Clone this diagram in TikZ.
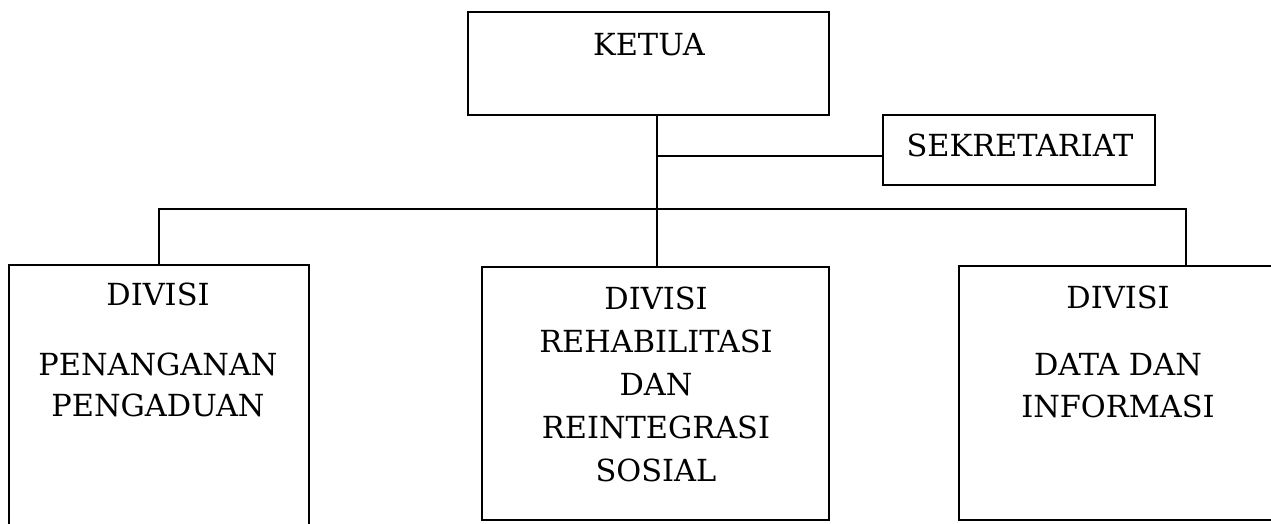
\documentclass[tikz,border=0pt]{standalone}
\usepackage{fontspec}
\setmainfont{DejaVu Serif}
\usetikzlibrary{positioning}

\begin{document}
\begin{tikzpicture}[x=0.5pt,y=-0.5pt,
      box/.style={draw,line width=0.8pt,inner sep=0pt},
      txt/.style={anchor=north,inner sep=0pt,align=center,
                  font=\fontsize{15.2}{21}\selectfont},
      link/.style={line width=0.8pt}]
    \clip (0,0) rectangle (1271,524);

    % pimpinan
    \node[box,minimum width=180.5pt,minimum height=51.5pt] (ketua) at (648.5,63.5) {};
    \node[txt] (ketua-t) at (649,33) {KETUA};
    \node[box,minimum width=136pt,minimum height=35pt] (sekretariat) at (1019,150) {};
    \node[txt] (sekretariat-t) at (1020,134) {SEKRETARIAT};

    % divisi
    \node[box,minimum width=150pt,minimum height=147.5pt] (penanganan) at (159,412.5) {};
    \node[txt,font=\fontsize{15.2}{20.5}\selectfont] (penanganan-t) at (158,283)
      {DIVISI\\[14.5pt]PENANGANAN\\PENGADUAN};
    \node[box,minimum width=173.5pt,minimum height=126.5pt] (rehabilitasi) at (655.5,393.5) {};
    \node[txt,font=\fontsize{15.2}{21.4}\selectfont] (rehabilitasi-t) at (656,287)
      {DIVISI\\REHABILITASI\\DAN\\REINTEGRASI\\SOSIAL};
    \node[box,minimum width=165.5pt,minimum height=127pt] (data) at (1124.5,393) {};
    \node[txt] (data-t) at (1118,286) {DIVISI\\[12.5pt]DATA DAN\\INFORMASI};

    \coordinate (bus) at (657,209);
    \coordinate (dropR) at (1186,266);

    \draw[link] (bus |- ketua.south) -- (bus |- rehabilitasi.north);
    \draw[link] ([yshift=-3pt]sekretariat.west) -- ++(-226,0);
    \draw[link] (penanganan.north) |- (bus) -| (dropR);
  \end{tikzpicture}
\end{document}
